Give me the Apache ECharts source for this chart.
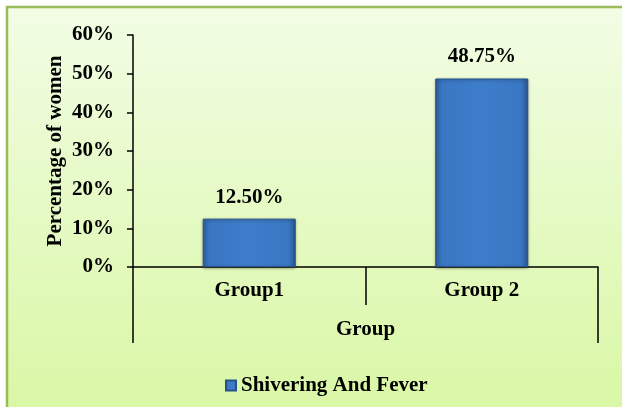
<!DOCTYPE html>
<html>
<head>
<meta charset="utf-8">
<script src="https://cdn.jsdelivr.net/npm/echarts@6/dist/echarts.min.js"></script>
<style>
  html, body { margin: 0; padding: 0; background: #ffffff; }
  #chart { width: 622px; height: 407px; }
</style>
</head>
<body>
<div id="chart"></div>
<script>
// Categories and values (percent of women)
const categories = ['Group1', 'Group 2'];
const groupLevel = ['Group'];
const shiveringValues = [12.5, 48.75];
const valueLabels = ['12.50%', '48.75%'];
const yTicks = [0, 10, 20, 30, 40, 50, 60];
const seriesName = 'Shivering And Fever';
const yTitle = 'Percentage of women';

const FONT = '"Liberation Serif", "Times New Roman", serif';
const textBold = { fontFamily: FONT, fontWeight: 'bold', fontSize: 21, color: '#000' };

const barFill = new echarts.graphic.LinearGradient(0, 0, 1, 0, [
  { offset: 0, color: '#2d5f9f' },
  { offset: 0.08, color: '#3a77c3' },
  { offset: 0.5, color: '#3d7dca' },
  { offset: 0.92, color: '#3a77c3' },
  { offset: 1, color: '#2a5894' }
]);

const chart = echarts.init(document.getElementById('chart'), null, { renderer: 'canvas' });

chart.setOption({
  backgroundColor: '#ffffff',
  animation: false,
  graphic: [{
    type: 'rect',
    z: -10,
    silent: true,
    shape: { x: 7, y: 7, width: 640, height: 420 },
    style: {
      fill: new echarts.graphic.LinearGradient(0, 0, 0, 1, [
        { offset: 0, color: '#f2fde5' },
        { offset: 1, color: '#d8f7a2' }
      ]),
      stroke: '#9bbb59',
      lineWidth: 2.5
    }
  }],
  grid: { left: 133, right: 24, top: 35, bottom: 140, containLabel: false },
  legend: {
    left: 220,
    top: 370,
    itemWidth: 10,
    itemHeight: 10,
    itemGap: 4,
    icon: 'rect',
    textStyle: textBold,
    data: [seriesName]
  },
  xAxis: [{
    // inner level: the two groups
    type: 'category',
    data: categories,
    position: 'bottom',
    axisLine: { lineStyle: { color: '#000', width: 1.5 } },
    axisTick: { show: true, inside: false, length: 38, alignWithLabel: false, lineStyle: { color: '#000', width: 1.5 } },
    axisLabel: Object.assign({ margin: 13 }, textBold),
    splitLine: { show: false }
  }, {
    // outer level: the shared "Group" heading spanning both bars
    type: 'category',
    data: groupLevel,
    position: 'bottom',
    offset: 0,
    axisLine: { show: false },
    axisTick: { show: true, inside: false, length: 76, alignWithLabel: false, lineStyle: { color: '#000', width: 1.5 } },
    axisLabel: Object.assign({ margin: 52 }, textBold),
    splitLine: { show: false }
  }],
  yAxis: {
    type: 'value',
    min: 0,
    max: 60,
    interval: 10,
    name: yTitle,
    nameLocation: 'middle',
    nameGap: 67,
    nameRotate: 90,
    nameMoveOverlap: false,
    nameTextStyle: textBold,
    axisLine: { show: true, lineStyle: { color: '#000', width: 1.5 } },
    axisTick: { show: true, inside: false, length: 6, lineStyle: { color: '#000', width: 1.5 } },
    axisLabel: Object.assign({
      margin: 19,
      formatter: v => yTicks.includes(v) ? v + '%' : ''
    }, textBold),
    splitLine: { show: false }
  },
  series: [{
    name: seriesName,
    type: 'bar',
    xAxisIndex: 0,
    barWidth: '40%',
    data: shiveringValues,
    itemStyle: {
      color: barFill,
      borderColor: '#28528a',
      borderWidth: 1,
      shadowColor: 'rgba(0,0,0,0.35)',
      shadowBlur: 3,
      shadowOffsetY: 1
    },
    label: Object.assign({
      show: true,
      position: 'top',
      distance: 11,
      formatter: p => valueLabels[p.dataIndex]
    }, textBold)
  }]
});
</script>
</body>
</html>
